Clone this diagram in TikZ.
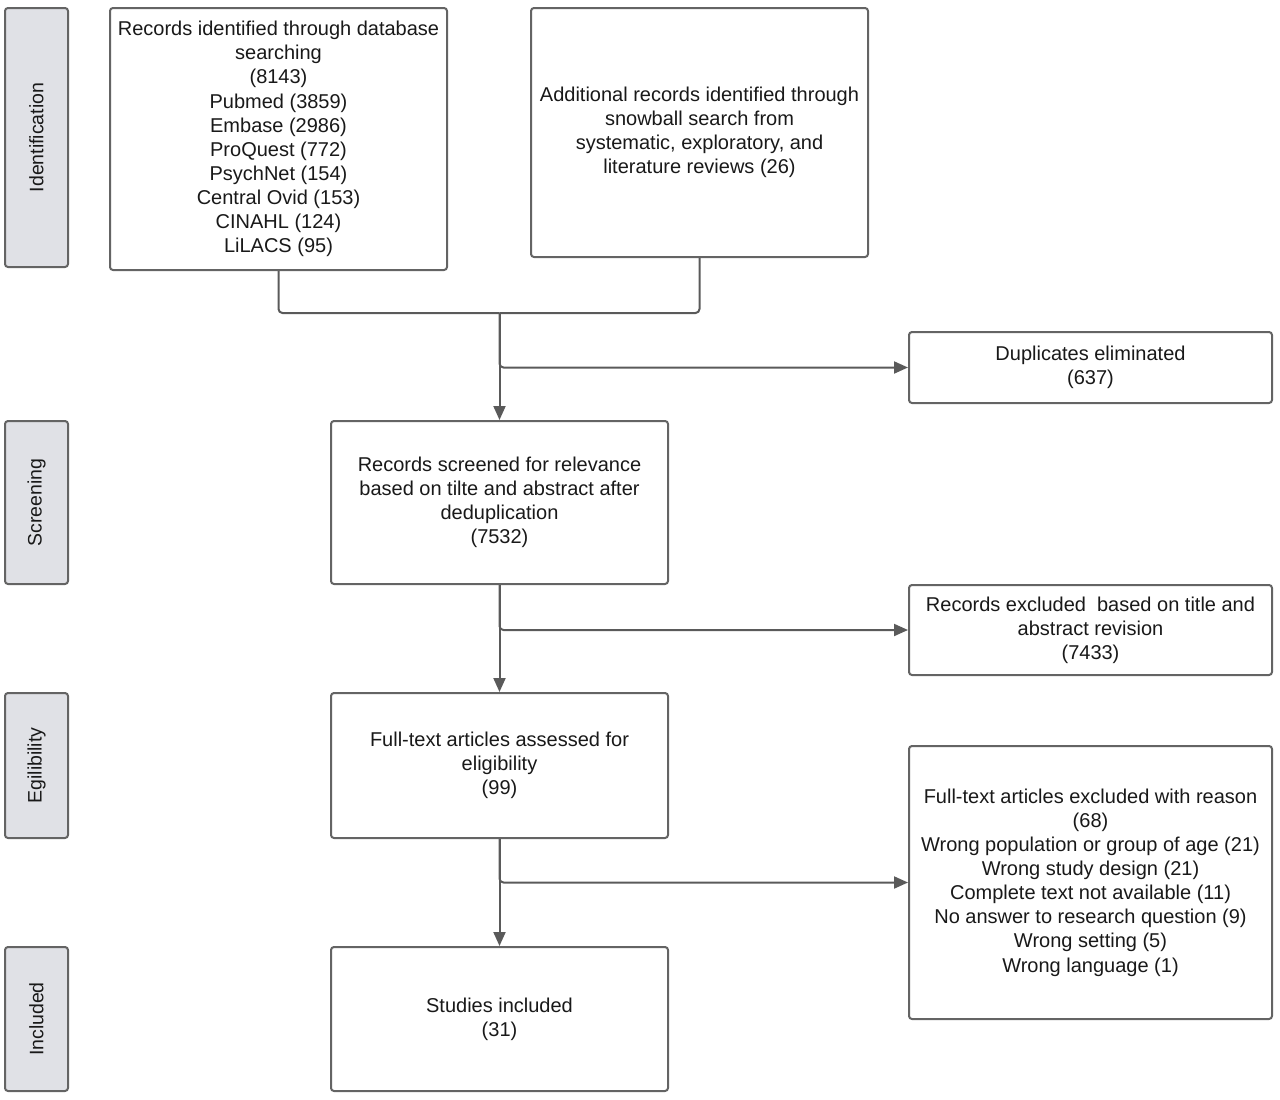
\documentclass[tikz,border=0pt]{standalone}
\usepackage{fontspec}
\setmainfont{Liberation Sans}
\usetikzlibrary{arrows.meta}
\definecolor{lineg}{RGB}{90,90,90}
\definecolor{boxg}{RGB}{100,100,100}
\definecolor{sideg}{RGB}{224,225,230}

\begin{document}
\begin{tikzpicture}[x=1pt,y=-1pt,
		line width=2pt,
		main node/.style={rectangle,draw=boxg,rounded corners=3pt,fill=white,align=center,
			text=black!90,font=\fontsize{20}{24.1}\selectfont,inner sep=0pt},
		side node/.style={rectangle,draw=boxg,rounded corners=3pt,fill=sideg,rotate=90,
			text=black!90,font=\fontsize{19.5}{24}\selectfont,minimum height=63pt,inner sep=0pt},
		flow/.style={draw=lineg,rounded corners=4pt,-{Triangle[length=14pt,width=12pt]}},
		merge line/.style={draw=lineg,rounded corners=4pt}]
		\useasboundingbox (0,0) rectangle (1280,1100);
		
		% stage labels
		\node[side node, minimum width=259pt] (sid) at (36.5,137.5) {Identification};
		\node[side node, minimum width=163pt] (sscr) at (36.5,502.5) {Screening};
		\node[side node, minimum width=145pt] (selig) at (36.5,765.5) {Egilibility};
		\node[side node, minimum width=144pt] (sincl) at (36.5,1019) {Included};
		
		% boxes
		\node[main node, minimum width=337pt, minimum height=262pt] (db) at (278.5,139)
		{Records identified through database\\searching\\(8143)\\Pubmed (3859)\\Embase (2986)\\ProQuest (772)\\PsychNet (154)\\Central Ovid (153)\\CINAHL (124)\\LiLACS (95)};
		\node[main node, minimum width=337pt, minimum height=249pt] (snow) at (699.5,132.5)
		{Additional records identified through\\snowball search from\\systematic, exploratory, and\\literature reviews (26)};
		\node[main node, minimum width=363pt, minimum height=71pt] (dup) at (1090.5,367.5)
		{Duplicates eliminated\\(637)};
		\node[main node, minimum width=337pt, minimum height=163pt] (scr) at (499.5,502.5)
		{Records screened for relevance\\based on tilte and abstract after\\deduplication\\(7532)};
		\node[main node, minimum width=363pt, minimum height=90pt] (exc) at (1090.5,630)
		{Records excluded\ \ based on title and\\abstract revision\\(7433)};
		\node[main node, minimum width=337pt, minimum height=145pt] (elig) at (499.5,765.5)
		{Full-text articles assessed for\\eligibility\\(99)};
		\node[main node, minimum width=363pt, minimum height=273pt] (ftx) at (1090.5,882.5)
		{Full-text articles excluded with reason\\(68)\\Wrong population or group of age (21)\\Wrong study design (21)\\Complete text not available (11)\\No answer to research question (9)\\Wrong setting (5)\\Wrong language (1)};
		\node[main node, minimum width=337pt, minimum height=144pt] (incl) at (499.5,1019)
		{Studies included\\(31)};
		
		\coordinate (merge) at (499.5,313);
		
		% connectors
		\path[merge line] (db.south) |- (merge);
		\path[merge line] (snow.south) |- (merge);
		\path[flow] (merge) -- (scr.north);
		\path[flow] (merge) |- (dup.west);
		\path[flow] (scr.south) -- (elig.north);
		\path[flow] (scr.south) |- (exc.west);
		\path[flow] (elig.south) -- (incl.north);
		\path[flow] (elig.south) |- (ftx.west);
		\end{tikzpicture}
\end{document}
